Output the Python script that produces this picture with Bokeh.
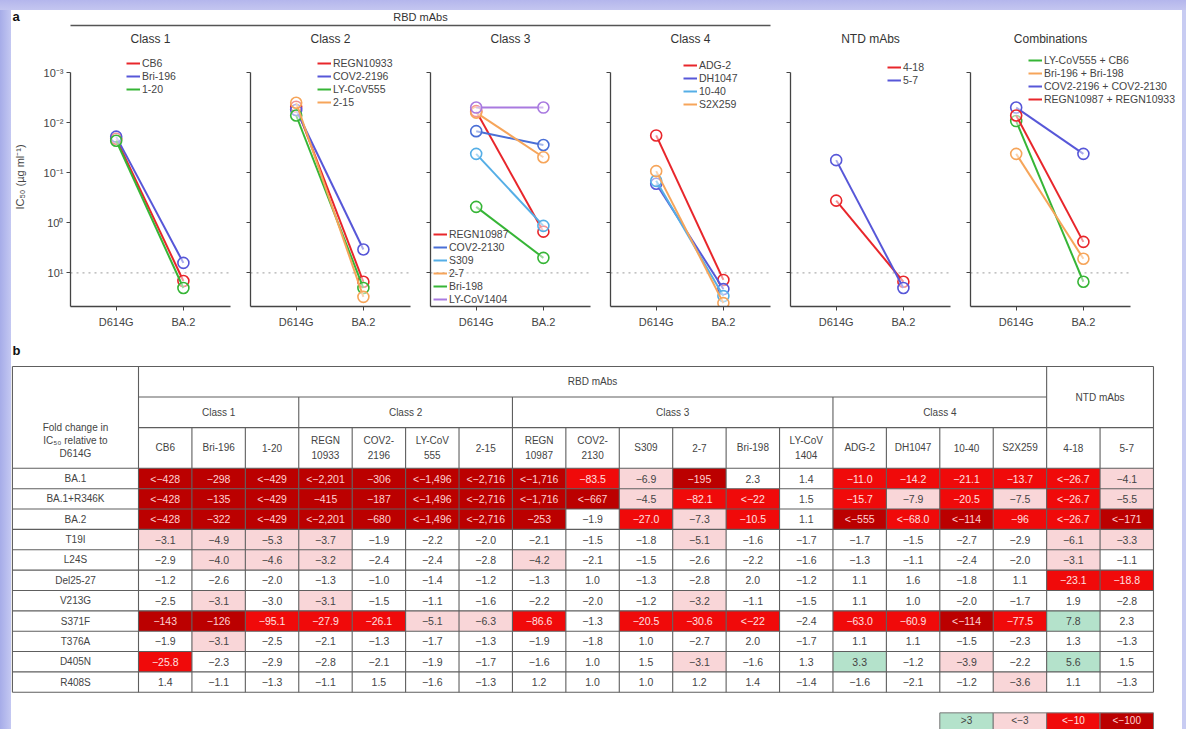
import numpy as np
from bokeh.plotting import figure
from bokeh.layouts import column, row
from bokeh.models import (Range1d, FixedTicker, CustomJSTickFormatter,
                          Legend, LegendItem, ColumnDataSource)
from bokeh.core.properties import value
from bokeh.embed import file_html
from bokeh.resources import INLINE

FONT = "Liberation Sans"

# ---------------- panel a data: IC50 (ug/ml) ----------------
variants = ["D614G", "BA.2"]

class1_names = ["CB6", "Bri-196", "1-20"]
class1_d614g = [0.021, 0.019, 0.023]
class1_ba2 = [14.5, 6.3, 20.0]

class2_names = ["REGN10933", "COV2-2196", "LY-CoV555", "2-15"]
class2_d614g = [0.0048, 0.0056, 0.0072, 0.0040]
class2_ba2 = [15.0, 3.4, 20.0, 30.0]

class3_names = ["REGN10987", "COV2-2130", "S309", "2-7", "Bri-198", "LY-CoV1404"]
class3_d614g = [0.0059, 0.0148, 0.042, 0.0063, 0.48, 0.0050]
class3_ba2 = [1.5, 0.028, 1.15, 0.049, 5.0, 0.0050]

class4_names = ["ADG-2", "DH1047", "10-40", "S2X259"]
class4_d614g = [0.018, 0.166, 0.145, 0.093]
class4_ba2 = [13.8, 21.0, 29.0, 40.0]

ntd_names = ["4-18", "5-7"]
ntd_d614g = [0.36, 0.056]
ntd_ba2 = [15.0, 20.0]

combo_names = ["LY-CoV555 + CB6", "Bri-196 + Bri-198",
               "COV2-2196 + COV2-2130", "REGN10987 + REGN10933"]
combo_d614g = [0.0093, 0.042, 0.0050, 0.0072]
combo_ba2 = [15.0, 5.2, 0.042, 2.4]

panel_titles = ["Class 1", "Class 2", "Class 3", "Class 4", "NTD mAbs", "Combinations"]
ytick_values = [1e-3, 1e-2, 1e-1, 1.0, 10.0]
detection_limit = 10.0

# ---------------- panel b data: fold change ----------------
mab_columns = ["CB6", "Bri-196", "1-20", "REGN\n10933", "COV2-\n2196", "LY-CoV\n555", "2-15",
               "REGN\n10987", "COV2-\n2130", "S309", "2-7", "Bri-198", "LY-CoV\n1404",
               "ADG-2", "DH1047", "10-40", "S2X259", "4-18", "5-7"]
class_groups = [("Class 1", 0, 3), ("Class 2", 3, 7), ("Class 3", 7, 13), ("Class 4", 13, 17)]
mutations = ["BA.1", "BA.1+R346K", "BA.2", "T19I", "L24S", "Del25-27", "V213G",
             "S371F", "T376A", "D405N", "R408S"]
row_BA1 = ["<-428", "-298", "<-429", "<-2,201", "-306", "<-1,496", "<-2,716", "<-1,716", "-83.5",
           "-6.9", "-195", "2.3", "1.4", "-11.0", "-14.2", "-21.1", "-13.7", "<-26.7", "-4.1"]
row_BA1_R346K = ["<-428", "-135", "<-429", "-415", "-187", "<-1,496", "<-2,716", "<-1,716", "<-667",
                 "-4.5", "-82.1", "<-22", "1.5", "-15.7", "-7.9", "-20.5", "-7.5", "<-26.7", "-5.5"]
row_BA2 = ["<-428", "-322", "<-429", "<-2,201", "-680", "<-1,496", "<-2,716", "-253", "-1.9",
           "-27.0", "-7.3", "-10.5", "1.1", "<-555", "<-68.0", "<-114", "-96", "<-26.7", "<-171"]
row_T19I = ["-3.1", "-4.9", "-5.3", "-3.7", "-1.9", "-2.2", "-2.0", "-2.1", "-1.5", "-1.8",
            "-5.1", "-1.6", "-1.7", "-1.7", "-1.5", "-2.7", "-2.9", "-6.1", "-3.3"]
row_L24S = ["-2.9", "-4.0", "-4.6", "-3.2", "-2.4", "-2.4", "-2.8", "-4.2", "-2.1", "-1.5",
            "-2.6", "-2.2", "-1.6", "-1.3", "-1.1", "-2.4", "-2.0", "-3.1", "-1.1"]
row_Del25_27 = ["-1.2", "-2.6", "-2.0", "-1.3", "-1.0", "-1.4", "-1.2", "-1.3", "1.0", "-1.3",
                "-2.8", "2.0", "-1.2", "1.1", "1.6", "-1.8", "1.1", "-23.1", "-18.8"]
row_V213G = ["-2.5", "-3.1", "-3.0", "-3.1", "-1.5", "-1.1", "-1.6", "-2.2", "-2.0", "-1.2",
             "-3.2", "-1.1", "-1.5", "1.1", "1.0", "-2.0", "-1.7", "1.9", "-2.8"]
row_S371F = ["-143", "-126", "-95.1", "-27.9", "-26.1", "-5.1", "-6.3", "-86.6", "-1.3", "-20.5",
             "-30.6", "<-22", "-2.4", "-63.0", "-60.9", "<-114", "-77.5", "7.8", "2.3"]
row_T376A = ["-1.9", "-3.1", "-2.5", "-2.1", "-1.3", "-1.7", "-1.3", "-1.9", "-1.8", "1.0",
             "-2.7", "2.0", "-1.7", "1.1", "1.1", "-1.5", "-2.3", "1.3", "-1.3"]
row_D405N = ["-25.8", "-2.3", "-2.9", "-2.8", "-2.1", "-1.9", "-1.7", "-1.6", "1.0", "1.5",
             "-3.1", "-1.6", "1.3", "3.3", "-1.2", "-3.9", "-2.2", "5.6", "1.5"]
row_R408S = ["1.4", "-1.1", "-1.3", "-1.1", "1.5", "-1.6", "-1.3", "1.2", "1.0", "1.0",
             "1.2", "1.4", "-1.4", "-1.6", "-2.1", "-1.2", "-3.6", "1.1", "-1.3"]
table_rows = [row_BA1, row_BA1_R346K, row_BA2, row_T19I, row_L24S, row_Del25_27, row_V213G,
              row_S371F, row_T376A, row_D405N, row_R408S]
legend_labels = [">3", "<-3", "<-10", "<-100"]

# ---------------- styles ----------------
RED, BLUE, GREEN, ORANGE = "#e8262b", "#5757d8", "#36b536", "#f6a55a"
LBLUE, PURPLE = "#55aee6", "#a97ae0"
panel_colors = [
    [RED, BLUE, GREEN],
    [RED, BLUE, GREEN, ORANGE],
    [RED, "#4a6fd6", LBLUE, ORANGE, GREEN, PURPLE],
    [RED, BLUE, LBLUE, ORANGE],
    [RED, BLUE],
    [GREEN, ORANGE, BLUE, RED],
]
legend_place = [(56, 9, None), (67, 9, None), (3, None, 1), (73, 11, None), (97, 13, None), (58, 6, None)]
CAT_FILL = {"dark": "#bb0000", "red": "#f00a0a", "pink": "#f9d6d8", "green": "#b4e2cb", "none": "white"}
CAT_TEXT = {"dark": "#ffd2d2", "red": "#ffe0e0", "pink": "#444444", "green": "#444444", "none": "#444444"}

PAGE_W, PAGE_H = 1186, 729
FRAME_W, FRAME_H = 160, 259
PX_PER_UNIT = 67.2
X0, X_AXIS_END = -0.68, 1.70
Y_BOTTOM, Y_TOP = 10 ** 1.67, 10 ** -3.5

SUP_CODE = """
const e = Math.round(Math.log10(tick));
const m = {'-': '\u207b', '0': '\u2070', '1': '\u00b9', '2': '\u00b2', '3': '\u00b3'};
let s = '';
for (const c of String(e)) { s += m[c]; }
return '10' + s;
"""


def make_panel(idx, names, d614g, ba2):
    first = idx == 0
    last = idx == 5
    left = 70 if first else 14
    fw = 210 if last else FRAME_W
    x1 = X0 + fw / PX_PER_UNIT
    p = figure(frame_width=fw, frame_height=FRAME_H,
               x_range=Range1d(X0, x1), y_range=Range1d(Y_BOTTOM, Y_TOP),
               y_axis_type="log", output_backend="svg", toolbar_location=None,
               min_border_left=left, min_border_right=6,
               min_border_top=0, min_border_bottom=34, outline_line_color=None,
               background_fill_color=None, border_fill_color=None)
    p.xgrid.visible = False
    p.ygrid.visible = False

    yax = p.yaxis[0]
    yax.ticker = FixedTicker(ticks=ytick_values)
    yax.bounds = (1e-3, Y_BOTTOM)
    yax.major_tick_out = 4
    yax.major_tick_in = 0
    yax.minor_tick_line_color = None
    yax.axis_line_color = "#444444"
    yax.major_tick_line_color = "#444444"
    yax.axis_line_width = 1.3
    yax.major_label_text_font_size = "11px"
    yax.major_label_text_font = FONT
    yax.major_label_text_color = "#444444"
    yax.major_label_standoff = 3
    if first:
        yax.formatter = CustomJSTickFormatter(code=SUP_CODE)
        yax.axis_label = "IC\u2085\u2080 (\u00b5g ml\u207b\u00b9)"
        yax.axis_label_text_font = FONT
        yax.axis_label_text_font_size = "11px"
        yax.axis_label_text_font_style = "normal"
        yax.axis_label_text_color = "#444444"
        yax.axis_label_standoff = 15
    else:
        yax.formatter = CustomJSTickFormatter(code="return '';")

    xax = p.xaxis[0]
    xax.ticker = FixedTicker(ticks=[0, 1])
    xax.major_label_overrides = {i: v for i, v in enumerate(variants)}
    xax.bounds = (X0, X_AXIS_END)
    xax.major_tick_out = 4
    xax.major_tick_in = 0
    xax.minor_tick_line_color = None
    xax.axis_line_color = "#444444"
    xax.major_tick_line_color = "#444444"
    xax.axis_line_width = 1.3
    xax.major_label_text_font = FONT
    xax.major_label_text_font_size = "11px"
    xax.major_label_text_color = "#444444"
    xax.major_label_standoff = 5

    # limit-of-detection dotted line
    p.segment(x0=[X0], y0=[detection_limit], x1=[X_AXIS_END], y1=[detection_limit],
              line_color="#b0b0b0", line_dash="dotted", line_width=1.2)

    items = []
    for name, dv, bv, c in zip(names, d614g, ba2, panel_colors[idx]):
        ln = p.line(x=[0, 1], y=[dv, bv], line_color=c, line_width=2)
        p.scatter(x=[0, 1], y=[dv, bv], marker="circle", size=11, fill_color="white",
                  fill_alpha=0.5, line_color=c, line_width=1.6)
        items.append(LegendItem(label=name, renderers=[ln]))

    n = len(names)
    h = n * 13
    lx, top, bottom = legend_place[idx]
    ly = bottom if top is None else FRAME_H - top - h
    leg = Legend(items=items, location=(lx, ly), label_text_font=FONT,
                 label_text_font_size="10.5px", label_text_color="#444444",
                 glyph_width=14, glyph_height=10, label_height=12, label_standoff=2,
                 spacing=1, padding=0, margin=0, border_line_color=None,
                 background_fill_alpha=0)
    p.add_layout(leg)
    return p


panels_data = [
    (class1_names, class1_d614g, class1_ba2),
    (class2_names, class2_d614g, class2_ba2),
    (class3_names, class3_d614g, class3_ba2),
    (class4_names, class4_d614g, class4_ba2),
    (ntd_names, ntd_d614g, ntd_ba2),
    (combo_names, combo_d614g, combo_ba2),
]
panels = [make_panel(i, *d) for i, d in enumerate(panels_data)]

# ---------------- header figure (labels above panels) ----------------
HEAD_H = 47
head = figure(width=PAGE_W, height=HEAD_H, x_range=Range1d(0, PAGE_W), y_range=Range1d(HEAD_H, 0),
              output_backend="svg", toolbar_location=None, min_border=0,
              x_axis_location=None, y_axis_location=None, outline_line_color=None,
              background_fill_color=None, border_fill_color=None)
head.xgrid.visible = False
head.ygrid.visible = False
frame_lefts = [70 + 180 * k for k in range(6)]
title_x = [fl + FRAME_W / 2 for fl in frame_lefts]
head.text(x=title_x, y=[38] * 6, text=panel_titles, text_font=value(FONT), text_font_size="12px",
          text_align="center", text_baseline="middle", text_color="#333333")
rbd_x0, rbd_x1 = frame_lefts[0], frame_lefts[3] + FRAME_W
head.segment(x0=[rbd_x0], y0=[25], x1=[rbd_x1], y1=[25], line_color="#555555", line_width=1.5)
head.text(x=[(rbd_x0 + rbd_x1) / 2], y=[16], text=["RBD mAbs"], text_font=value(FONT),
          text_font_size="11px", text_align="center", text_baseline="middle", text_color="#333333")
head.text(x=[12], y=[16], text=["a"], text_font=value(FONT), text_font_size="13px",
          text_font_style="bold", text_align="left", text_baseline="middle", text_color="#111111")

# ---------------- table figure ----------------
TAB_TOP = 340
TAB_H = PAGE_H - TAB_TOP
COL_PX = 53.42
ROW_PX = 20.36
x_start = (0 - 138) / COL_PX
x_end = x_start + PAGE_W / COL_PX
y_top = (TAB_TOP - 478) / ROW_PX
y_bot = y_top + TAB_H / ROW_PX
tab = figure(width=PAGE_W, height=TAB_H, x_range=Range1d(x_start, x_end), y_range=Range1d(y_bot, y_top),
             output_backend="svg", toolbar_location=None, min_border=0,
             x_axis_location=None, y_axis_location=None, outline_line_color=None,
             background_fill_color=None, border_fill_color=None)
tab.xgrid.visible = False
tab.ygrid.visible = False

NCOL = len(mab_columns)
NROW = len(mutations)
LBL_L = -2.36


def category(s):
    v = float(s.replace("<", "").replace(",", ""))
    if v <= -100:
        return "dark"
    if v <= -10:
        return "red"
    if v < -3:
        return "pink"
    if v >= 3:
        return "green"
    return "none"


cx, cy, fills, txt, tcol = [], [], [], [], []
for r, vals in enumerate(table_rows):
    for c, s in enumerate(vals):
        cat = category(s)
        cx.append(c + 0.5)
        cy.append(r)
        fills.append(CAT_FILL[cat])
        txt.append(s.replace("-", "\u2212"))
        tcol.append(CAT_TEXT[cat])
cells = ColumnDataSource(dict(x=cx, y=cy, fill=fills, text=txt, tcol=tcol))
tab.rect(x=[(LBL_L + NCOL) / 2], y=[-3.0], width=[NCOL - LBL_L], height=[5.0],
         fill_color="white", line_color=None)
tab.rect(x=[LBL_L / 2], y=[(NROW - 1) / 2], width=[-LBL_L], height=[NROW],
         fill_color="white", line_color=None)
tab.rect(x="x", y="y", width=1, height=1, fill_color="fill", line_color=None, source=cells)
tab.text(x="x", y="y", text="text", text_color="tcol", text_font=value(FONT), text_font_size="10.5px",
         text_align="center", text_baseline="middle", source=cells)

# grid lines
x0s, y0s, x1s, y1s = [], [], [], []
for r in range(NROW + 1):
    x0s.append(LBL_L); x1s.append(NCOL); y0s.append(r - 0.5); y1s.append(r - 0.5)
for (a, b, yy) in [(LBL_L, NCOL, -5.5), (0, 17, -4.0), (0, NCOL, -2.5)]:
    x0s.append(a); x1s.append(b); y0s.append(yy); y1s.append(yy)
group_edges = {0, 17, NCOL}
class_edges = {g[1] for g in class_groups} | {g[2] for g in class_groups}
for xx in [LBL_L] + list(range(NCOL + 1)):
    if xx == LBL_L or xx in group_edges:
        top = -5.5
    elif xx in class_edges:
        top = -4.0
    else:
        top = -2.5
    x0s.append(xx); x1s.append(xx); y0s.append(top); y1s.append(NROW - 0.5)
tab.segment(x0=x0s, y0=y0s, x1=x1s, y1=y1s, line_color="#5e5e5e", line_width=1.1)

# header texts
tab.text(x=[c + 0.5 for c in range(NCOL)], y=[-1.5] * NCOL, text=mab_columns, text_font=value(FONT),
         text_font_size="10px", text_align="center", text_baseline="middle", text_color="#444444",
         text_line_height=1.3)
tab.text(x=[(g[1] + g[2]) / 2 for g in class_groups], y=[-3.25] * len(class_groups),
         text=[g[0] for g in class_groups], text_font=value(FONT), text_font_size="10px",
         text_align="center", text_baseline="middle", text_color="#444444")
tab.text(x=[8.5, 18.0], y=[-4.75, -4.0], text=["RBD mAbs", "NTD mAbs"], text_font=value(FONT),
         text_font_size="10px", text_align="center", text_baseline="middle", text_color="#444444")
tab.text(x=[LBL_L / 2], y=[-1.87], text=["Fold change in\nIC\u2085\u2080 relative to\nD614G"],
         text_font=value(FONT), text_font_size="10px", text_align="center", text_baseline="middle",
         text_color="#444444", text_line_height=1.2)
tab.text(x=[LBL_L / 2] * NROW, y=list(range(NROW)), text=mutations, text_font=value(FONT),
         text_font_size="10px", text_align="center", text_baseline="middle", text_color="#444444")
tab.text(x=[LBL_L], y=[-6.29], text=["b"], text_font=value(FONT), text_font_size="13px",
         text_font_style="bold", text_align="left", text_baseline="middle", text_color="#111111")

# colour key
key_cats = ["green", "pink", "red", "dark"]
key_y = (721 - 478) / ROW_PX
key_src = ColumnDataSource(dict(x=[15.5 + i for i in range(4)], y=[key_y] * 4, ty=[key_y - 0.05] * 4,
                                fill=[CAT_FILL[k] for k in key_cats],
                                text=[s.replace("-", "\u2212") for s in legend_labels],
                                tcol=[CAT_TEXT[k] for k in key_cats]))
tab.rect(x="x", y="y", width=1, height=0.85, fill_color="fill", line_color="#777777", source=key_src)
tab.text(x="x", y="ty", text="text", text_color="tcol", text_font=value(FONT),
         text_font_size="10px", text_align="center", text_baseline="middle", source=key_src)

page_bg = ("linear-gradient(to bottom, #b4b6ec 0px, #c4c6f0 10px, rgba(255,255,255,0) 10px), "
           "linear-gradient(to right, #a6ace8 0px, #c4c8f2 11px, rgba(255,255,255,0) 11px, "
           "rgba(255,255,255,0) 1182px, #c8ccf2 1182px), #ffffff")
layout = column(head, row(*panels), tab, styles={"background": page_bg})
open("out.html", "w").write(file_html(layout, INLINE))
